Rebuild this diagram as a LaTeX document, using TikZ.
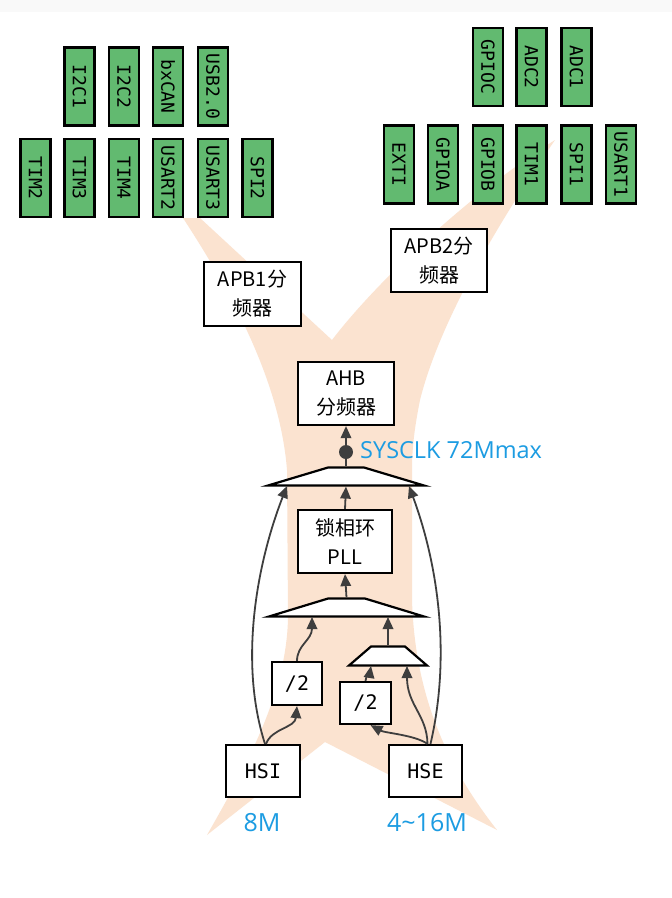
\documentclass[tikz,border=0pt]{standalone}
\usepackage{fontspec}
\setmainfont{Noto Sans CJK SC}
\newfontfamily\monof{DejaVu Sans Mono}
\newfontfamily\bluef{Open Sans}
\usetikzlibrary{shapes.geometric,arrows.meta}
\definecolor{peach}{RGB}{251,227,208}
\definecolor{gfill}{RGB}{98,186,112}
\definecolor{lblue}{RGB}{28,156,226}
\definecolor{wire}{RGB}{62,62,62}
\begin{document}
\begin{tikzpicture}[x=1pt,y=-1pt,
  gbox/.style={draw=black,line width=2.2pt,fill=gfill,rotate=-90,minimum width=78pt,minimum height=30pt,inner sep=0pt,font=\monof\fontsize{18}{18}\selectfont},
  wbox/.style={draw=black,line width=2.2pt,fill=white,inner sep=0pt,align=center,font=\fontsize{20}{29}\selectfont},
  mbox/.style={wbox,font=\monof\fontsize{20}{20}\selectfont},
  mux/.style={trapezium,draw=black,line width=2.2pt,fill=white,inner sep=1pt,trapezium stretches=true},
  conn/.style={draw=wire,line width=1.8pt,-{Triangle[length=12pt,width=10.5pt]}},
  blab/.style={text=lblue,inner sep=0pt}]
\useasboundingbox (0,0) rectangle (672,898);
\fill[white] (0,0) rectangle (672,898);
\fill[gray!5] (0,0) rectangle (672,12);
% background X band
\fill[peach] (183,218) -- (200,218) -- (332,340)
  .. controls (370,290) and (460,200) .. (555,140)
  .. controls (500,220) and (440,320) .. (420,400)
  .. controls (414,430) and (412,450) .. (412,470)
  -- (412,600)
  .. controls (415,700) and (450,770) .. (497,830)
  -- (325,742) -- (207,835)
  .. controls (250,760) and (287,690) .. (288,617)
  -- (287,470)
  .. controls (280,380) and (230,290) .. (183,218) -- cycle;
% left peripheral group
\node[gbox] (i2c1) at (79.5,86.5) {I2C1};
\node[gbox] (i2c2) at (124,86.5) {I2C2};
\node[gbox] (bxcan) at (168,86.5) {bxCAN};
\node[gbox] (usb) at (213,86.5) {USB2.0};
\node[gbox] (tim2) at (35.5,178) {TIM2};
\node[gbox] (tim3) at (79.5,178) {TIM3};
\node[gbox] (tim4) at (124,178) {TIM4};
\node[gbox] (usart2) at (168,178) {USART2};
\node[gbox] (usart3) at (213,178) {USART3};
\node[gbox] (spi2) at (257.5,178) {SPI2};
% right peripheral group
\node[gbox] (gpioc) at (488,67) {GPIOC};
\node[gbox] (adc2) at (531.5,67) {ADC2};
\node[gbox] (adc1) at (576.5,67) {ADC1};
\node[gbox] (exti) at (399,164.5) {EXTI};
\node[gbox] (gpioa) at (443,164.5) {GPIOA};
\node[gbox] (gpiob) at (488,164.5) {GPIOB};
\node[gbox] (tim1) at (531.5,164.5) {TIM1};
\node[gbox] (spi1) at (576.5,164.5) {SPI1};
\node[gbox] (usart1) at (621,164.5) {USART1};
% prescalers
\node[wbox,minimum width=97pt,minimum height=64pt] (apb1) at (252.5,294) {APB1分\\频器};
\node[wbox,minimum width=96pt,minimum height=63pt] (apb2) at (439,260.5) {APB2分\\频器};
\node[wbox,minimum width=96pt,minimum height=63pt] (ahb) at (346,393.5) {AHB\\分频器};
% muxes and PLL
\node[mux,minimum width=156pt,minimum height=18pt,trapezium left angle=31,trapezium right angle=31] (mux1) at (346,476.5) {};
\node[wbox,minimum width=94pt,minimum height=63pt] (pll) at (345,541.5) {锁相环\\PLL};
\node[mux,minimum width=155pt,minimum height=18pt,trapezium left angle=32,trapezium right angle=32] (mux2) at (346.5,607.5) {};
\node[mux,minimum width=78pt,minimum height=19pt,trapezium left angle=57,trapezium right angle=57] (mux3) at (388,656) {};
\node[mbox,minimum width=50pt,minimum height=43pt] (div1) at (297,683.5) {/2};
\node[mbox,minimum width=51pt,minimum height=42pt] (div2) at (365.5,703) {/2};
\node[mbox,minimum width=74pt,minimum height=52pt] (hsi) at (263,771) {HSI};
\node[mbox,minimum width=73pt,minimum height=52pt] (hse) at (425.5,771) {HSE};
% input points on mux bottoms
\coordinate (m1a) at (287,486);
\coordinate (m1c) at (409,486);
\coordinate (m2a) at (312,617);
\coordinate (m2b) at (388,617);
\coordinate (m3a) at (371,666);
\coordinate (m3b) at (407,666);
% connectors
\draw[conn] (mux1.north) -- (ahb.south);
\node[circle,fill=wire,minimum size=14pt,inner sep=0pt] (dot) at (346,452) {};
\draw[conn] (pll.north) -- (mux1.south);
\draw[conn] (mux2.north) -- (pll.south);
\draw[conn] (mux3.north) -- (m2b);
\draw[conn] (div1.north) .. controls (297,645) and (312,640) .. (m2a);
\draw[conn] (div2.north) .. controls (366,675) and (370,672) .. (m3a);
\draw[conn] ([xshift=3pt]hsi.north) .. controls (272,728) and (295,728) .. (div1.south);
\draw[conn] ([xshift=2pt]hsi.north) .. controls (238,660) and (258,560) .. (m1a);
\draw[conn] ([xshift=2pt]hse.north) .. controls (415,735) and (385,733) .. ([xshift=5pt]div2.south);
\draw[conn] ([xshift=2pt]hse.north) .. controls (427,715) and (407,705) .. (m3b);
\draw[conn] ([xshift=5pt]hse.north) .. controls (450,660) and (440,570) .. (m1c);
% labels
\node[blab,anchor=west,font=\bluef\fontsize{23.5}{23.5}\selectfont] (sysclk) at (360,450) {SYSCLK 72Mmax};
\node[blab,font=\bluef\fontsize{25}{25}\selectfont] (f8) at (262,823) {8M};
\node[blab,font=\bluef\fontsize{25}{25}\selectfont] (f416) at (427,823) {4\textasciitilde16M};
\end{tikzpicture}
\end{document}
